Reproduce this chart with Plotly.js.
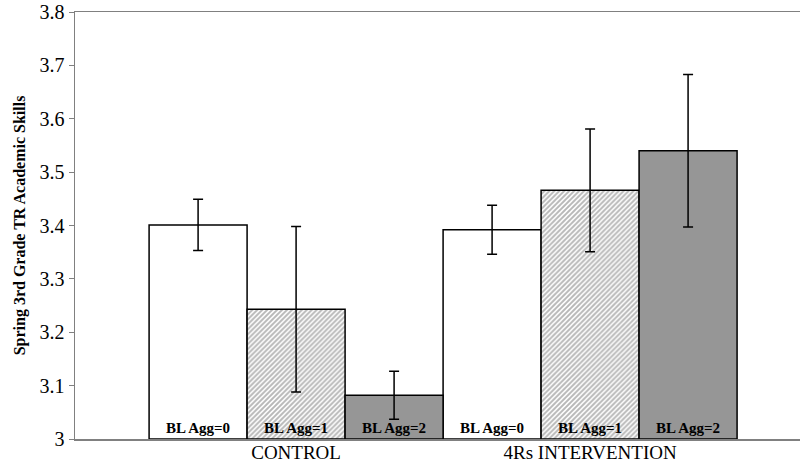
<!DOCTYPE html>
<html>
<head>
<meta charset="utf-8">
<script src="https://cdn.plot.ly/plotly-3.0.1.min.js"></script>
<style>html,body{margin:0;padding:0;background:#fff;}#chart{width:801px;height:465px;}</style>
</head>
<body>
<div id="chart"></div>
<script>
const categories = ["CONTROL", "4Rs INTERVENTION"];
const seriesNames = ["BL Agg=0", "BL Agg=1", "BL Agg=2"];
const agg0 = [3.401, 3.392];
const agg1 = [3.243, 3.466];
const agg2 = [3.082, 3.540];
const err0 = [0.048, 0.046];
const err1 = [0.155, 0.115];
const err2 = [0.045, 0.143];
const yTicks = [3, 3.1, 3.2, 3.3, 3.4, 3.5, 3.6, 3.7, 3.8];
const yTickText = ["3", "3.1", "3.2", "3.3", "3.4", "3.5", "3.6", "3.7", "3.8"];
const baseValue = 3;

const serif = "Liberation Serif";
const values = [agg0, agg1, agg2];
const errors = [err0, err1, err2];
const fills = ["#ffffff", "#ffffff", "#969696"];

const traces = values.map((vals, i) => {
  const t = {
    type: "bar",
    name: seriesNames[i],
    x: categories,
    y: vals.map(v => v - baseValue),
    base: baseValue,
    text: categories.map(() => seriesNames[i]),
    textposition: "inside",
    insidetextanchor: "start",
    textangle: 0,
    constraintext: "none",
    textfont: {family: serif, size: 15, color: "#000000", weight: 700},
    marker: {color: fills[i], line: {color: "#000000", width: 1.5}},
    error_y: {type: "data", array: errors[i], visible: true, color: "#000000", thickness: 1.5, width: 5},
    hoverinfo: "skip"
  };
  if (i === 1) {
    t.marker.pattern = {shape: "/", fgcolor: "#707070", bgcolor: "#ffffff", size: 3.5, solidity: 0.55, fillmode: "overlay"};
  }
  return t;
});

const layout = {
  width: 801, height: 465,
  margin: {l: 75, r: 1, t: 12, b: 26},
  paper_bgcolor: "#ffffff", plot_bgcolor: "#ffffff",
  showlegend: false,
  barmode: "group", bargap: 0, bargroupgap: 0,
  xaxis: {
    type: "category",
    range: [-0.752, 1.714],
    showline: true, linecolor: "#808080", linewidth: 1.5, mirror: true,
    ticks: "", showgrid: false, zeroline: false,
    ticklabelstandoff: -4,
    tickfont: {family: serif, size: 19, color: "#000000"}
  },
  yaxis: {
    range: [3, 3.8],
    tickvals: yTicks, ticktext: yTickText,
    showline: true, linecolor: "#808080", linewidth: 1.5,
    ticks: "outside", ticklen: 5, tickcolor: "#808080", tickwidth: 1,
    showgrid: false, zeroline: false,
    tickfont: {family: serif, size: 20, color: "#000000"},
    title: {text: "Spring 3rd Grade TR Academic Skills", font: {family: serif, size: 16, color: "#000000", weight: 700}, standoff: 10}
  }
};

Plotly.newPlot("chart", traces, layout, {displayModeBar: false, staticPlot: true});
</script>
</body>
</html>
